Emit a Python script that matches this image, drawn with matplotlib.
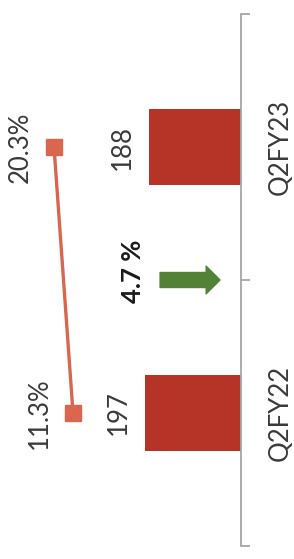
import matplotlib
matplotlib.use("Agg")
import matplotlib.pyplot as plt

categories = ["Q2FY22", "Q2FY23"]
bar_values = [197, 188]
bar_labels = ["197", "188"]
pct_values = [11.3, 20.3]
pct_labels = ["11.3%", "20.3%"]
change_label = "4.7 %"

W, H = 294, 559
DPI = 100
fig = plt.figure(figsize=(W / DPI, H / DPI), dpi=DPI)
plt.rcParams['font.family'] = ['Lato', 'DejaVu Sans']

ax_left_px = 0
ax_right_px = 241
ax_top_px = 14
ax_bot_px = 546
ax = fig.add_axes([ax_left_px / W, (H - ax_bot_px) / H,
                   (ax_right_px - ax_left_px) / W, (ax_bot_px - ax_top_px) / H])

bar_color = "#B53327"
line_color = "#D9664F"
text_color = "#3a3a3a"
FS = 18.5

ypos = list(range(len(categories)))
ax.barh(ypos, bar_values, height=0.285, color=bar_color, zorder=2)
ax.set_xlim(494.5, 0)
ax.set_ylim(-0.5, len(categories) - 0.5)

for s in ["top", "left", "bottom"]:
    ax.spines[s].set_visible(False)
ax.spines["right"].set_color("#A6A6A6")
ax.spines["right"].set_linewidth(1.3)
ax.xaxis.set_visible(False)
ax.yaxis.tick_right()
ax.set_yticks([-0.5, 0.5, 1.5])
ax.set_yticklabels([])
ax.tick_params(axis="y", direction="out", length=6.5, width=1.3, color="#A6A6A6")

for y, v, lab in zip(ypos, bar_values, bar_labels):
    ax.annotate(lab, xy=(v, y), xytext=(-19.5, 0), textcoords="offset points",
                rotation=90, ha="center", va="center", fontsize=FS, color=text_color)

for y, lab in zip(ypos, categories):
    ax.annotate(lab, xy=(0, y), xytext=(28, 0), textcoords="offset points",
                rotation=90, ha="center", va="center", fontsize=FS, color=text_color,
                annotation_clip=False)

ax2 = ax.twiny()
ax2.set_xlim(45.9, -68.3)
ax2.set_ylim(ax.get_ylim())
ax2.axis("off")
ax2.plot(pct_values, ypos, color=line_color, lw=2.4, marker="s", markersize=12.2,
         markerfacecolor=line_color, markeredgecolor=line_color, zorder=3)
for y, v, lab in zip(ypos, pct_values, pct_labels):
    ax2.annotate(lab, xy=(v, y), xytext=(-24.5, 0), textcoords="offset points",
                 rotation=90, ha="center", va="center", fontsize=FS, color=text_color)

ax.annotate("", xy=(43, 0.5), xytext=(166, 0.5),
            arrowprops=dict(arrowstyle="simple,head_length=0.5,head_width=1.0,tail_width=0.54",
                            color="#538135", shrinkA=0, shrinkB=0, mutation_scale=20))
ax.annotate(change_label, xy=(166, 0.5), xytext=(-19.5, 6.5), textcoords="offset points",
            rotation=90, ha="center", va="center", fontsize=FS, fontweight="bold",
            color="#1a1a1a")

fig.savefig("out.png", dpi=DPI)
